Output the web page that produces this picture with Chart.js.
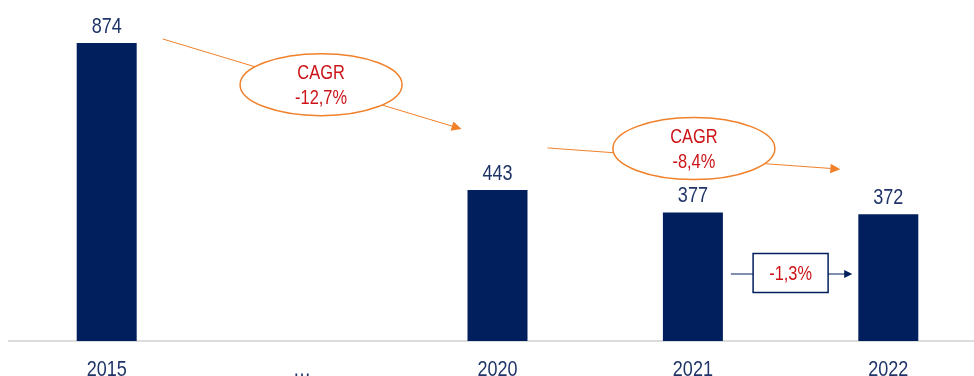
<!DOCTYPE html>
<html>
<head>
<meta charset="utf-8">
<script src="https://cdn.jsdelivr.net/npm/chart.js@4/dist/chart.umd.min.js"></script>
<style>
  html, body { margin: 0; padding: 0; background: #fff; overflow: hidden; }
  #wrap { width: 996px; height: 376px; position: relative; }
</style>
</head>
<body>
<div id="wrap"><canvas id="chart"></canvas></div>
<script>
// Values per year (the "…" slot is a gap between 2015 and 2020)
const years = ['2015', '…', '2020', '2021', '2022'];
const volumes = [874, null, 443, 377, 372];
const cagrLabels = ['CAGR', '-12,7%', '-8,4%'];
const yoyLabel = '-1,3%';

const NAVY = '#001f5c';
const TEXT_NAVY = '#1f3468';
const ORANGE = '#f0802a';
const RED = '#cc1418';
const FONT = '"Liberation Sans", Arial, sans-serif';
const NARROW = 0.82; // squeeze text horizontally, Arial Narrow look

function narrowText(ctx, text, x, y) {
    ctx.save();
    ctx.translate(x, y);
    ctx.scale(NARROW, 1);
    ctx.fillText(text, 0, 0);
    ctx.restore();
}

function arrowHead(ctx, x1, y1, x2, y2, size, color) {
    const a = Math.atan2(y2 - y1, x2 - x1);
    ctx.save();
    ctx.fillStyle = color;
    ctx.beginPath();
    ctx.moveTo(x2, y2);
    ctx.lineTo(x2 - size * Math.cos(a - 0.45), y2 - size * Math.sin(a - 0.45));
    ctx.lineTo(x2 - size * Math.cos(a + 0.45), y2 - size * Math.sin(a + 0.45));
    ctx.closePath();
    ctx.fill();
    ctx.restore();
}

// line with an ellipse sitting on it, text inside
function cagrCallout(ctx, from, to, t, dy, rx, ry, lines) {
    const a = Math.atan2(to.y - from.y, to.x - from.x);
    ctx.save();
    ctx.strokeStyle = ORANGE;
    ctx.lineWidth = 1;
    ctx.beginPath();
    ctx.moveTo(from.x, from.y);
    ctx.lineTo(to.x - 8 * Math.cos(a), to.y - 8 * Math.sin(a));
    ctx.stroke();
    arrowHead(ctx, from.x, from.y, to.x, to.y, 11, ORANGE);

    const cx = from.x + (to.x - from.x) * t;
    const cy = from.y + (to.y - from.y) * t + dy;
    ctx.beginPath();
    ctx.ellipse(cx, cy, rx, ry, 0, 0, Math.PI * 2);
    ctx.fillStyle = '#fff';
    ctx.fill();
    ctx.lineWidth = 1.5;
    ctx.stroke();

    ctx.fillStyle = RED;
    ctx.font = '20px ' + FONT;
    ctx.textAlign = 'center';
    ctx.textBaseline = 'middle';
    narrowText(ctx, lines[0], cx, cy - 11.5);
    narrowText(ctx, lines[1], cx, cy + 13.5);
    ctx.restore();
}

const annotations = {
    id: 'annotations',
    afterDatasetsDraw(chart) {
        const ctx = chart.ctx;
        const x = chart.scales.x, y = chart.scales.y;
        const meta = chart.getDatasetMeta(0);

        // category labels under the axis
        ctx.save();
        ctx.fillStyle = TEXT_NAVY;
        ctx.font = '22px ' + FONT;
        ctx.textAlign = 'center';
        ctx.textBaseline = 'alphabetic';
        years.forEach((label, i) => {
            narrowText(ctx, label, x.getPixelForValue(i), y.getPixelForValue(0) + 35);
        });

        // value labels above bars
        meta.data.forEach((bar, i) => {
            if (volumes[i] == null) return;
            narrowText(ctx, String(volumes[i]), bar.x, bar.y - 10);
        });
        ctx.restore();

        // 2015 -> 2020
        cagrCallout(ctx,
            { x: x.getPixelForValue(0) + 56, y: y.getPixelForValue(volumes[0]) - 4 },
            { x: x.getPixelForValue(2) - 36, y: y.getPixelForValue(volumes[2]) - 61 },
            0.53, -2, 81, 31, [cagrLabels[0], cagrLabels[1]]);

        // 2020 -> 2022
        cagrCallout(ctx,
            { x: x.getPixelForValue(2) + 50, y: y.getPixelForValue(volumes[2]) - 42 },
            { x: x.getPixelForValue(4) - 48, y: y.getPixelForValue(volumes[4]) - 45 },
            0.5, -10, 81, 31, [cagrLabels[0], cagrLabels[2]]);

        // 2021 -> 2022 box
        const xa = x.getPixelForValue(3), xb = x.getPixelForValue(4);
        const mid = (xa + xb) / 2;
        const ly = y.getPixelForValue(0) - 67;
        ctx.save();
        ctx.strokeStyle = NAVY;
        ctx.lineWidth = 1;
        ctx.beginPath();
        ctx.moveTo(xa + 38, ly);
        ctx.lineTo(xb - 42, ly);
        ctx.stroke();
        arrowHead(ctx, xa + 38, ly, xb - 36, ly, 9, NAVY);
        ctx.fillStyle = '#fff';
        ctx.fillRect(mid - 37.5, ly - 20.5, 75, 39);
        ctx.lineWidth = 1.5;
        ctx.strokeRect(mid - 37.5, ly - 20.5, 75, 39);
        ctx.fillStyle = RED;
        ctx.font = '20px ' + FONT;
        ctx.textAlign = 'center';
        ctx.textBaseline = 'middle';
        narrowText(ctx, yoyLabel, mid, ly);
        ctx.restore();
    }
};

new Chart(document.getElementById('chart'), {
    type: 'bar',
    data: {
        labels: years,
        datasets: [{
            data: volumes,
            backgroundColor: NAVY,
            borderWidth: 0,
            categoryPercentage: 1,
            barPercentage: 0.307
        }]
    },
    options: {
        responsive: true,
        maintainAspectRatio: false,
        animation: false,
        layout: { padding: { left: 9, right: 10, top: 0, bottom: 27 } },
        plugins: { legend: { display: false }, tooltip: { enabled: false } },
        scales: {
            x: {
                grid: { display: false },
                border: { display: true, color: '#dcdcdc', width: 2 },
                ticks: { display: false }
            },
            y: {
                display: false,
                min: 0,
                max: 1000
            }
        }
    },
    plugins: [annotations]
});
</script>
</body>
</html>
